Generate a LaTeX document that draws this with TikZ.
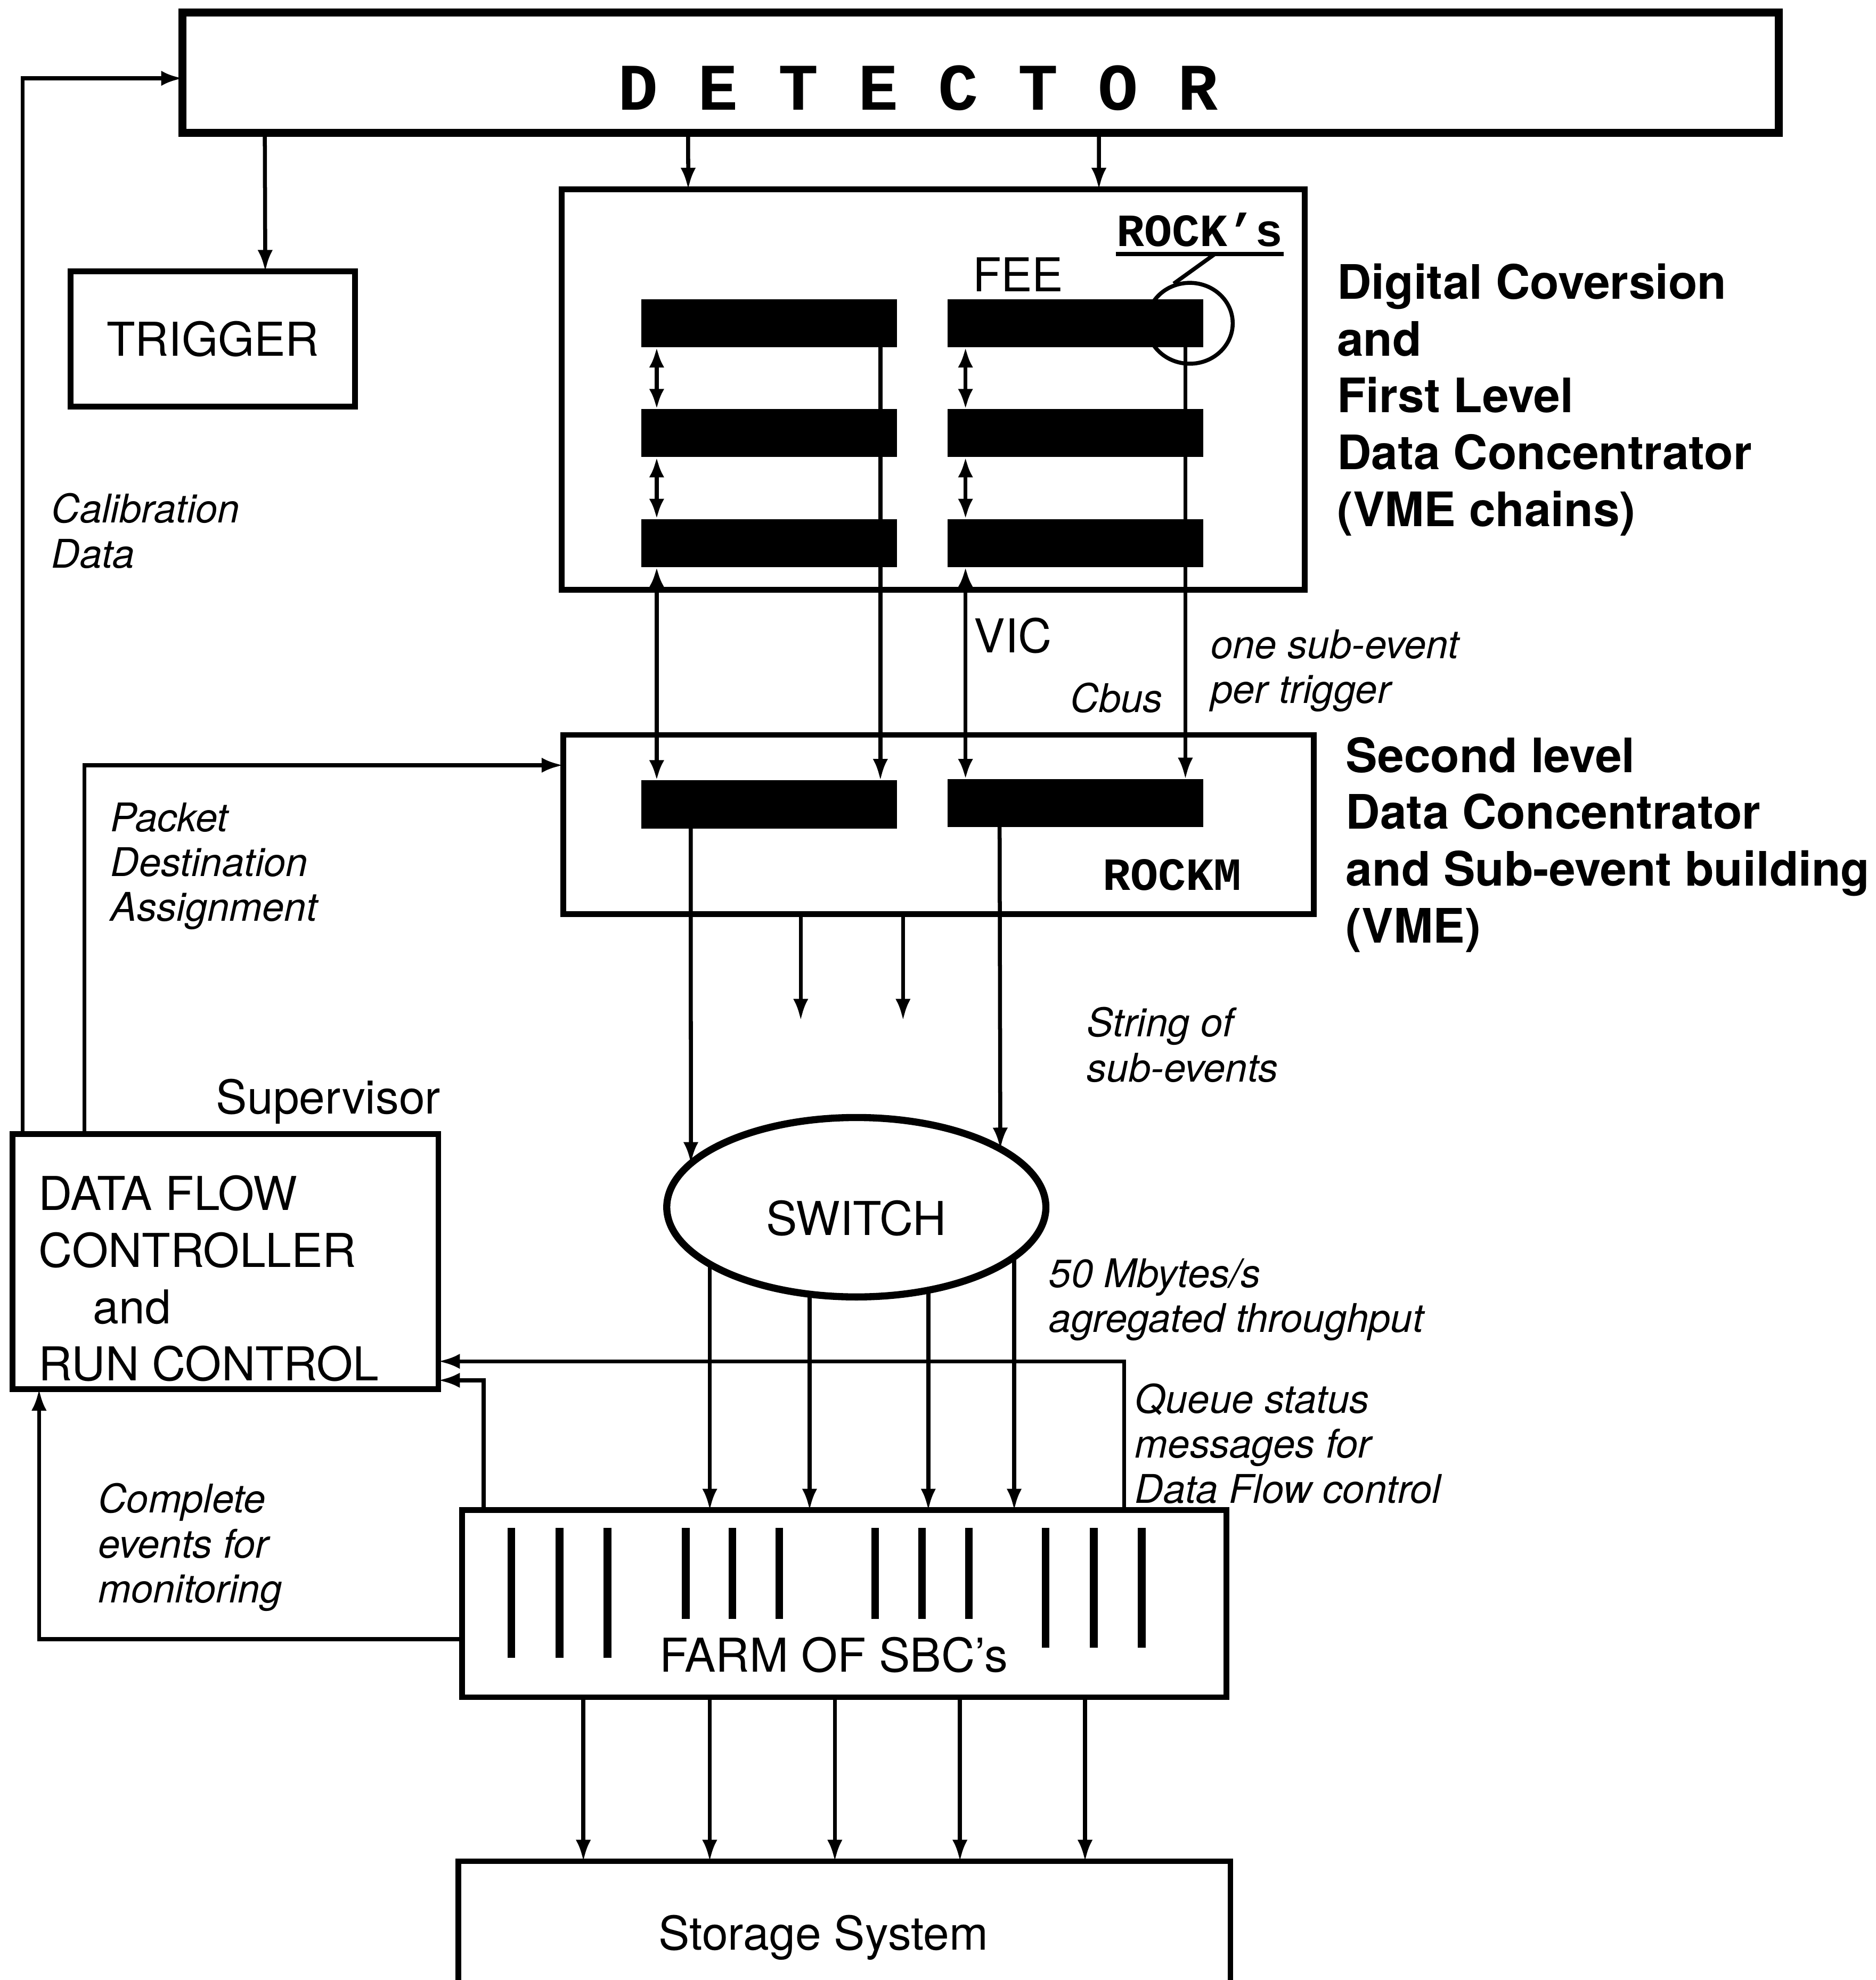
\documentclass[tikz,border=0pt]{standalone}
\usepackage{fontspec}
\setmainfont{TeX Gyre Heros}
\newfontfamily\typew{Liberation Mono}
\usetikzlibrary{arrows.meta,shapes.geometric,calc}

\begin{document}
\begin{tikzpicture}[x=0.01cm,y=-0.01cm,
	box/.style={draw,line width=1.3pt,inner sep=0pt,outer sep=0pt},
	bar/.style={fill=black,inner sep=0pt,outer sep=0pt,minimum width=2.02cm,minimum height=0.38cm},
	ln/.style={line width=0.9pt},
	arr/.style={line width=0.9pt,-{Latex[length=1.7mm,width=1.2mm]}},
	dbl/.style={line width=0.9pt,{Latex[length=1.6mm,width=1.2mm]}-{Latex[length=1.6mm,width=1.2mm]}},
	lbl/.style={inner sep=0pt,font=\fontsize{10.5}{12.8}\selectfont},
	note/.style={inner sep=0pt,anchor=north west,align=left,font=\fontsize{8.9}{10.1}\selectfont\itshape},
	head/.style={inner sep=0pt,anchor=north west,align=left,font=\fontsize{10.7}{12.8}\selectfont\bfseries},
	mono/.style={inner sep=0pt,anchor=base,font=\typew\bfseries\fontsize{10.4}{12}\selectfont}]
	\useasboundingbox (0,0) rectangle (1485,1568);
	\clip (0,0) rectangle (1485,1568);

	\node[box,line width=1.8pt,minimum width=12.63cm,minimum height=0.95cm] (det) at (776.5,57.5) {};
	\node[inner sep=0pt,anchor=base,font=\typew\bfseries\fontsize{15}{18}\selectfont] (dettxt) at (727,87) {D E T E C T O R};
	\node[box,lbl,minimum width=2.25cm,minimum height=1.07cm] (trig) at (168.5,268.5) {TRIGGER};

	\node[box,minimum width=5.88cm,minimum height=3.17cm] (fee) at (739,308.5) {};
	\foreach \r/\y in {1/256,2/343,3/430}{
		\node[bar] (a\r) at (609,\y) {};
		\node[bar] (b\r) at (851.5,\y) {};
	}
	\node[lbl,anchor=base] (feetxt) at (806,231) {FEE};
	\node[mono] (rocks) at (950,195) {ROCK’s};
	\draw[line width=1pt] ([yshift=-0.05cm]rocks.south west) -- ([yshift=-0.05cm]rocks.south east);
	\node[draw,ellipse,line width=0.9pt,minimum width=0.68cm,minimum height=0.64cm,inner sep=0pt] (ring) at (942,256) {};
	\draw[ln] ([xshift=0.12cm,yshift=-0.05cm]rocks.south) -- (ring.112);

	\node[box,minimum width=5.94cm,minimum height=1.42cm] (rockm) at (743,653) {};
	\node[bar] (ra) at (609,637) {};
	\node[bar] (rb) at (851.5,636) {};
	\node[mono] (rockmtxt) at (928,705) {ROCKM};

	\node[draw,ellipse,line width=1.6pt,minimum width=3.0cm,minimum height=1.42cm,inner sep=0pt] (sw) at (678,956) {};
	\node[lbl,anchor=base] (swtxt) at (678,978) {SWITCH};

	\node[box,minimum width=3.37cm,minimum height=2.02cm] (dfc) at (178.5,999) {};
	\node[lbl,anchor=north west,align=left] (dfctxt) at (30,930) {DATA FLOW\\CONTROLLER\\\hspace*{0.43cm}and\\RUN CONTROL};
	\node[lbl,anchor=base] (sup) at (260,882) {Supervisor};

	\node[box,minimum width=6.05cm,minimum height=1.48cm] (farm) at (668.5,1270) {};
	\foreach \x/\e in {405/1313,443/1313,481/1313,543/1282,580/1282,617/1282,693/1282,730/1282,767/1282,828/1305,866/1305,904/1305}
		\draw[line width=1.7pt] (\x,1210) -- (\x,\e);
	\node[lbl,anchor=base] (farmtxt) at (660,1324) {FARM OF SBC’s};

	\node[box,minimum width=6.11cm,minimum height=1.5cm] (store) at (668.5,1549) {};
	\node[lbl,anchor=base] (storetxt) at (652,1544) {Storage System};

	\draw[arr] ([xshift=-5.665cm]det.south) -- ([xshift=0.415cm]trig.north);
	\draw[arr] ([xshift=-2.315cm]det.south) -- ([xshift=-1.94cm]fee.north);
	\draw[arr] ([xshift=0.935cm]det.south) -- ([xshift=1.31cm]fee.north);
	\draw[arr] ([xshift=-1.605cm]dfc.north) |- ([yshift=-0.045cm]det.west);
	\draw[arr] ([xshift=-1.115cm]dfc.north) |- ([yshift=0.47cm]rockm.west);

	\foreach \i/\j in {1/2,2/3}{
		\draw[dbl] ([xshift=0.12cm]a\i.south west) -- ([xshift=0.12cm]a\j.north west);
		\draw[ln] ([xshift=-0.13cm]a\i.south east) -- ([xshift=-0.13cm]a\j.north east);
		\draw[dbl] ([xshift=0.14cm]b\i.south west) -- ([xshift=0.14cm]b\j.north west);
		\draw[ln] ([xshift=-0.14cm]b\i.south east) -- ([xshift=-0.14cm]b\j.north east);
	}
	\draw[dbl] ([xshift=0.12cm]a3.south west) -- ([xshift=0.12cm]ra.north west);
	\draw[arr] ([xshift=-0.13cm]a3.south east) -- ([xshift=-0.13cm]ra.north east);
	\draw[dbl] ([xshift=0.14cm]b3.south west) -- ([xshift=0.14cm]rb.north west);
	\draw[arr] ([xshift=-0.14cm]b3.south east) -- ([xshift=-0.14cm]rb.north east);

	\draw[arr] ([xshift=0.39cm]ra.south west) -- ($(sw.center)+(-131,-34.6)$);
	\draw[arr] ([xshift=0.41cm]rb.south west) -- ($(sw.center)+(114,-46)$);
	\coordinate (o1) at (634,808);
	\coordinate (o2) at (715,808);
	\draw[arr] (rockm.south -| o1) -- (o1);
	\draw[arr] (rockm.south -| o2) -- (o2);

	\foreach \n/\dx/\dy in {1/-116/45,2/-37/68.8,3/57/65.7,4/125/39.3}{
		\coordinate (s\n) at ($(sw.center)+(\dx,\dy)$);
		\draw[arr] (s\n) -- (s\n |- farm.north);
	}
	\draw[arr] ([xshift=2.215cm]farm.north) |- ([yshift=-0.79cm]dfc.east);
	\draw[arr] ([xshift=-2.855cm]farm.north) |- ([yshift=-0.94cm]dfc.east);
	\draw[arr] ([yshift=-0.28cm]farm.west) -| ([xshift=-1.475cm]dfc.south);
	\foreach \d in {-2.065,-1.065,-0.075,0.915,1.905}
		\draw[arr] ([xshift=\d cm]farm.south) -- ([xshift=\d cm]store.north);

	\node[lbl,anchor=base] (vic) at (802,517) {VIC};
	\node[note,anchor=base] (cbus) at (884,564) {Cbus};
	\node[note] (calib) at (40,390) {Calibration\\Data};
	\node[note] (packet) at (87,635) {Packet\\Destination\\Assignment};
	\node[note] (onesub) at (958,498) {one sub-event\\per trigger};
	\node[note] (string) at (860,797) {String of\\sub-events};
	\node[note] (thru) at (830,996) {50 Mbytes/s\\agregated throughput};
	\node[note] (queue) at (898,1095) {Queue status\\messages for\\Data Flow control};
	\node[note] (complete) at (77,1174) {Complete\\events for\\monitoring};
	\node[head] (lvlone) at (1058,208) {Digital Coversion\\and\\First Level\\Data Concentrator\\(VME chains)};
	\node[head] (lvltwo) at (1065,583) {Second level\\Data Concentrator\\and Sub-event building\\(VME)};
\end{tikzpicture}
\end{document}
